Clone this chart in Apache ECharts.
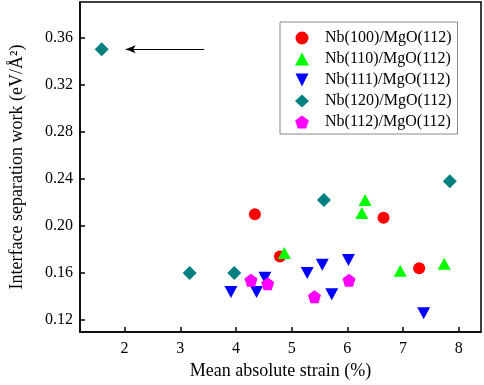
<!DOCTYPE html>
<html>
<head>
<meta charset="utf-8">
<script src="https://cdn.jsdelivr.net/npm/echarts@6/dist/echarts.min.js"></script>
<style>
  html, body { margin: 0; padding: 0; background: #fff; }
  #chart { width: 484px; height: 385px; }
</style>
</head>
<body>
<div id="chart"></div>
<script>
// series names (legend order)
const seriesNames = ["Nb(100)/MgO(112)", "Nb(110)/MgO(112)", "Nb(111)/MgO(112)", "Nb(120)/MgO(112)", "Nb(112)/MgO(112)"];

// points: [strain %, separation work eV/A^2]
const nb100 = [[4.34, 0.210], [6.65, 0.207], [4.79, 0.174], [7.29, 0.164]];
const nb110 = [[6.32, 0.222], [6.26, 0.211], [4.87, 0.177], [6.95, 0.162], [7.74, 0.168]];
const nb111 = [[3.91, 0.144], [4.37, 0.144], [4.52, 0.156], [5.28, 0.160], [5.55, 0.167], [6.02, 0.171], [5.72, 0.142], [7.37, 0.126]];
const nb120 = [[1.59, 0.350], [3.17, 0.160], [3.97, 0.160], [5.58, 0.222], [7.84, 0.238]];
const nb112 = [[4.27, 0.154], [4.57, 0.151], [5.41, 0.140], [6.03, 0.154]];

// tick labels
const xTicks = [2, 3, 4, 5, 6, 7, 8];
const yTicks = [0.12, 0.16, 0.20, 0.24, 0.28, 0.32, 0.36];

// arrow pointing at the Nb(120) outlier
const arrowFrom = [3.43, 0.35];
const arrowTo = [2.02, 0.35];

const FONT = "Liberation Serif";
const pentagon = "path://M0,-1 L0.951,-0.309 L0.588,0.809 L-0.588,0.809 L-0.951,-0.309 Z";
const downTri = "path://M0,0 L2,0 L1,2 Z";

const chart = echarts.init(document.getElementById("chart"));

const axisCommon = {
  axisLine: { show: true, lineStyle: { color: "#000", width: 1.5 } },
  axisTick: { show: true, inside: true, length: 5, lineStyle: { color: "#000", width: 1.5 } },
  splitLine: { show: false },
  nameTextStyle: { fontFamily: FONT, fontSize: 18, color: "#000" },
};

chart.setOption({
  animation: false,
  grid: {
    left: 79, right: 3, top: 2, bottom: 49,
    show: true, borderColor: "#000", borderWidth: 1.5, backgroundColor: "transparent",
  },
  legend: {
    orient: "vertical",
    left: 280, top: 22,
    padding: [8, 6, 4, 15],
    itemWidth: 14, itemHeight: 13, itemGap: 5,
    symbolKeepAspect: true,
    borderColor: "#888", borderWidth: 1,
    selectedMode: false,
    data: seriesNames,
    textStyle: { fontFamily: FONT, fontSize: 16, color: "#000", padding: [0, 0, 0, 11] },
  },
  xAxis: Object.assign({}, axisCommon, {
    type: "value",
    min: 1.2, max: 8.4,
    name: "Mean absolute strain (%)",
    nameLocation: "middle", nameGap: 30,
    axisTick: Object.assign({}, axisCommon.axisTick, { customValues: xTicks }),
    axisLabel: { customValues: xTicks, fontFamily: FONT, fontSize: 16, color: "#000", margin: 9 },
  }),
  yAxis: Object.assign({}, axisCommon, {
    type: "value",
    min: 0.11, max: 0.39,
    name: "Interface separation work (eV/Å²)",
    nameLocation: "middle", nameGap: 54,
    axisTick: Object.assign({}, axisCommon.axisTick, { customValues: yTicks }),
    axisLabel: {
      customValues: yTicks, fontFamily: FONT, fontSize: 16, color: "#000", margin: 7,
      formatter: v => v.toFixed(2),
    },
  }),
  series: [
    { name: seriesNames[0], type: "scatter", data: nb100, symbol: "circle", symbolSize: 12,
      itemStyle: { color: "#ff0000", opacity: 1 } },
    { name: seriesNames[1], type: "scatter", data: nb110, symbol: "triangle", symbolSize: [13, 12],
      itemStyle: { color: "#00ff00", opacity: 1 } },
    { name: seriesNames[2], type: "scatter", data: nb111, symbol: downTri, symbolSize: [13, 12],
      itemStyle: { color: "#0000ff", opacity: 1 } },
    { name: seriesNames[3], type: "scatter", data: nb120, symbol: "diamond", symbolSize: 14,
      itemStyle: { color: "#008080", opacity: 1 },
      markLine: {
        silent: true, animation: false,
        symbol: ["none", "arrow"], symbolSize: [6, 10],
        lineStyle: { color: "#000", width: 1, type: "solid" },
        label: { show: false },
        emphasis: { disabled: true },
        data: [[{ coord: arrowFrom }, { coord: arrowTo }]],
      } },
    { name: seriesNames[4], type: "scatter", data: nb112, symbol: pentagon, symbolSize: 13,
      itemStyle: { color: "#ff00ff", opacity: 1 } },
  ],
});
</script>
</body>
</html>
